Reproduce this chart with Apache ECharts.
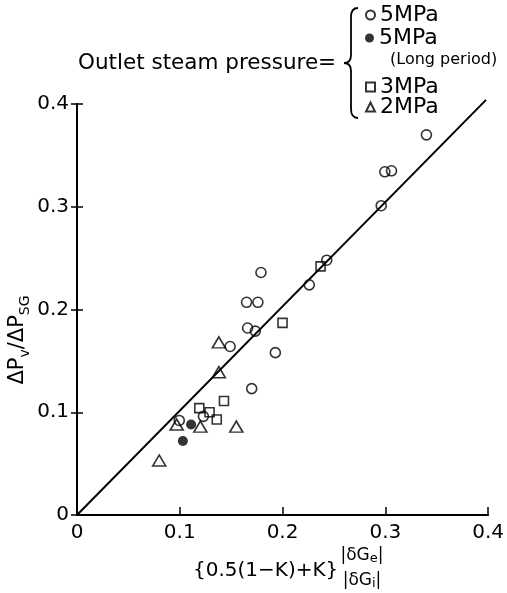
<!DOCTYPE html>
<html>
<head>
<meta charset="utf-8">
<script src="https://cdn.jsdelivr.net/npm/echarts@6/dist/echarts.min.js"></script>
<style>
  html, body { margin: 0; background: #fff; }
  #chart { width: 507px; height: 593px; }
</style>
</head>
<body>
<div id="chart"></div>
<script>
const FONT = 'DejaVu Sans';

// axis ticks
const X_TICKS = [0, 0.1, 0.2, 0.3, 0.4];
const Y_TICKS = [0, 0.1, 0.2, 0.3, 0.4];

// outlet steam pressure groups, [x, y]
const P5_OPEN = [
  [0.0995, 0.092], [0.123, 0.096], [0.149, 0.164], [0.170, 0.123],
  [0.166, 0.182], [0.1735, 0.179], [0.165, 0.207], [0.176, 0.207],
  [0.193, 0.158], [0.179, 0.236], [0.226, 0.224], [0.243, 0.248],
  [0.296, 0.301], [0.2995, 0.334], [0.306, 0.335], [0.340, 0.370]
];
const P5_LONG = [[0.103, 0.072], [0.111, 0.088]];
const P3 = [
  [0.119, 0.104], [0.129, 0.100], [0.136, 0.093], [0.143, 0.111],
  [0.200, 0.187], [0.237, 0.242]
];
const P2 = [
  [0.080, 0.053], [0.097, 0.088], [0.120, 0.086], [0.155, 0.086],
  [0.138, 0.139], [0.138, 0.168]
];
const FIT_LINE = [[0, 0], [0.398, 0.404]];

const chart = echarts.init(document.getElementById('chart'));

const hollow = { color: 'rgba(0,0,0,0)', borderColor: '#000', borderWidth: 1.6 };

function legendFor(name, top, label) {
  return {
    data: [name],
    left: 365,
    top: top,
    padding: 0,
    itemWidth: 9,
    itemHeight: 9,
    selectedMode: false,
    formatter: () => label,
    textStyle: { fontFamily: FONT, fontSize: 22, color: '#000' }
  };
}

// curly brace in front of the legend
const braceStyle = { fill: 'none', stroke: '#000', lineWidth: 1.8 };
const brace = [
  { type: 'bezierCurve', shape: { x1: 358, y1: 8, x2: 351, y2: 17, cpx1: 351, cpy1: 8 }, style: braceStyle },
  { type: 'line', shape: { x1: 351, y1: 17, x2: 351, y2: 55 }, style: braceStyle },
  { type: 'bezierCurve', shape: { x1: 351, y1: 55, x2: 344, y2: 63, cpx1: 351, cpy1: 63 }, style: braceStyle },
  { type: 'bezierCurve', shape: { x1: 344, y1: 63, x2: 351, y2: 71, cpx1: 351, cpy1: 63 }, style: braceStyle },
  { type: 'line', shape: { x1: 351, y1: 71, x2: 351, y2: 109 }, style: braceStyle },
  { type: 'bezierCurve', shape: { x1: 351, y1: 109, x2: 358, y2: 118, cpx1: 351, cpy1: 118 }, style: braceStyle }
];

const option = {
  animation: false,
  backgroundColor: '#fff',
  grid: { left: 77, right: 12, top: 104, bottom: 78, containLabel: false },
  legend: [
    legendFor('5MPa', 4, '5MPa'),
    legendFor('5MPa (Long period)', 27, '5MPa'),
    legendFor('3MPa', 76, '3MPa'),
    legendFor('2MPa', 96, '2MPa')
  ],
  xAxis: {
    type: 'value',
    min: X_TICKS[0],
    max: X_TICKS[X_TICKS.length - 1],
    interval: 0.1,
    splitLine: { show: false },
    axisLine: { lineStyle: { color: '#000', width: 2 } },
    axisTick: { inside: true, length: 8, lineStyle: { color: '#000', width: 1.5 } },
    axisLabel: {
      color: '#000', fontFamily: FONT, fontSize: 20, margin: 8,
      formatter: v => (v === 0 ? '0' : v.toFixed(1))
    }
  },
  yAxis: [
    {
      type: 'value',
      position: 'left',
      min: Y_TICKS[0],
      max: Y_TICKS[Y_TICKS.length - 1],
      interval: 0.1,
      splitLine: { show: false },
      axisLine: { lineStyle: { color: '#000', width: 2 } },
      axisTick: { length: 6, lineStyle: { color: '#000', width: 1.5 } },
      axisLabel: {
        color: '#000', fontFamily: FONT, fontSize: 20, margin: 8,
        formatter: v => (v === 0 ? '0' : v.toFixed(1))
      }
    },
    {
      // inner half of the crossing ticks
      type: 'value',
      position: 'left',
      min: Y_TICKS[0],
      max: Y_TICKS[Y_TICKS.length - 1],
      interval: 0.1,
      splitLine: { show: false },
      axisLine: { show: false },
      axisTick: { inside: true, length: 6, lineStyle: { color: '#000', width: 1.5 } },
      axisLabel: { show: false }
    }
  ],
  series: [
    {
      type: 'line',
      data: FIT_LINE,
      showSymbol: false,
      clip: false,
      silent: true,
      lineStyle: { color: '#000', width: 2 }
    },
    {
      name: '5MPa', type: 'scatter', data: P5_OPEN,
      symbol: 'circle', symbolSize: 10, itemStyle: hollow
    },
    {
      name: '5MPa (Long period)', type: 'scatter', data: P5_LONG,
      symbol: 'circle', symbolSize: 10, itemStyle: { color: '#000' }
    },
    {
      name: '3MPa', type: 'scatter', data: P3,
      symbol: 'rect', symbolSize: 9, itemStyle: hollow
    },
    {
      name: '2MPa', type: 'scatter', data: P2,
      symbol: 'triangle', symbolSize: [13, 11], itemStyle: hollow
    }
  ],
  graphic: brace.concat([
    {
      type: 'text', x: 78, y: 63,
      style: {
        text: 'Outlet steam pressure=', font: '21.5px ' + FONT, fill: '#000',
        textAlign: 'left', textVerticalAlign: 'middle'
      }
    },
    {
      type: 'text', x: 390, y: 60,
      style: {
        text: '(Long period)', font: '16px ' + FONT, fill: '#000',
        textAlign: 'left', textVerticalAlign: 'middle'
      }
    },
    {
      type: 'text', x: 19, y: 340, rotation: Math.PI / 2,
      style: {
        text: '{m|ΔP}{s|v}{m|/ΔP}{s|SG}',
        textAlign: 'center', textVerticalAlign: 'middle', fill: '#000',
        rich: {
          m: { fontFamily: FONT, fontSize: 21, lineHeight: 23, verticalAlign: 'top' },
          s: { fontFamily: FONT, fontSize: 14, lineHeight: 14, padding: [11, 0, 0, 0], verticalAlign: 'top' }
        }
      }
    },
    {
      type: 'text', x: 193, y: 571,
      style: {
        text: '{0.5(1−K)+K}', font: '20px ' + FONT, fill: '#000',
        textAlign: 'left', textVerticalAlign: 'middle'
      }
    },
    {
      type: 'text', x: 362, y: 557,
      style: {
        text: '{m||δG}{s|e}{m||}',
        textAlign: 'center', textVerticalAlign: 'middle', fill: '#000',
        rich: {
          m: { fontFamily: FONT, fontSize: 17, lineHeight: 19, verticalAlign: 'top' },
          s: { fontFamily: FONT, fontSize: 13, lineHeight: 13, padding: [5, 0, 0, 0], verticalAlign: 'top' }
        }
      }
    },
    {
      type: 'text', x: 362, y: 582,
      style: {
        text: '{m||δG}{s|i}{m||}',
        textAlign: 'center', textVerticalAlign: 'middle', fill: '#000',
        rich: {
          m: { fontFamily: FONT, fontSize: 17, lineHeight: 19, verticalAlign: 'top' },
          s: { fontFamily: FONT, fontSize: 13, lineHeight: 13, padding: [5, 0, 0, 0], verticalAlign: 'top' }
        }
      }
    }
  ])
};

chart.setOption(option);
window.addEventListener('resize', () => { chart.resize(); });
</script>
</body>
</html>
